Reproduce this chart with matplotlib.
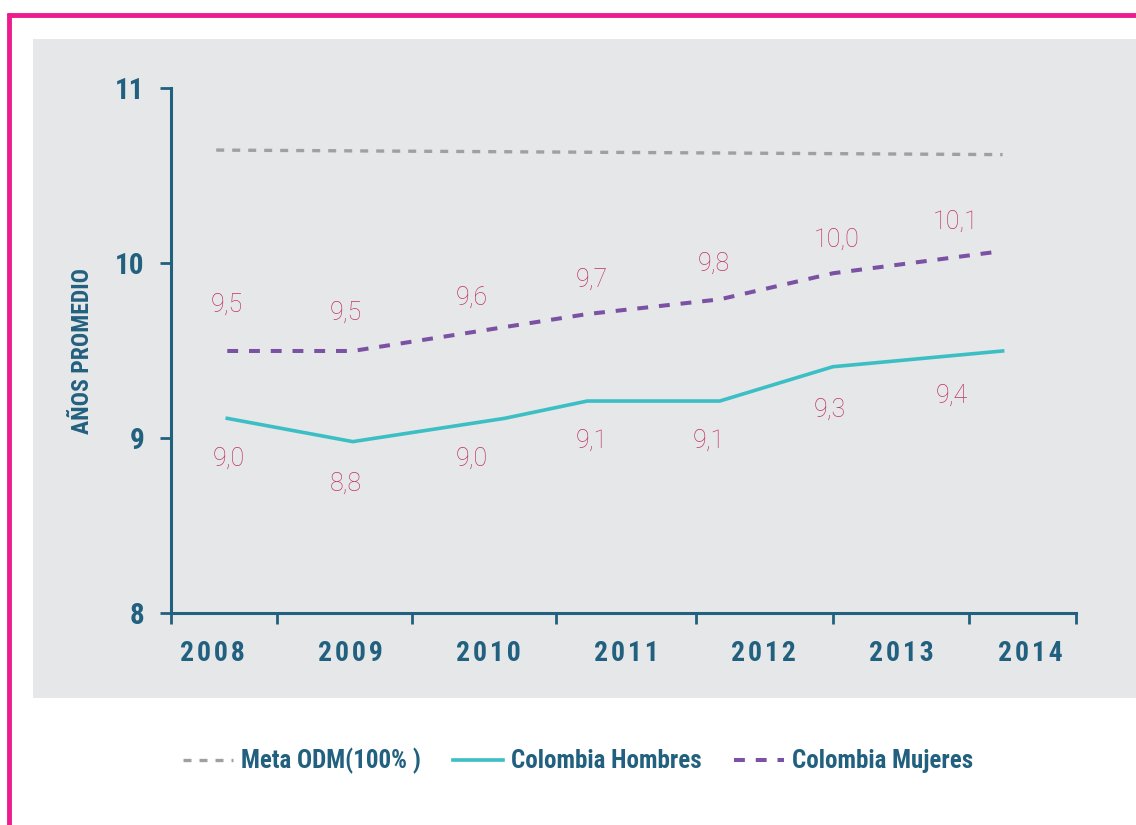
import matplotlib
matplotlib.use("Agg")
import matplotlib.pyplot as plt
import matplotlib.font_manager as fm
from matplotlib.patches import Rectangle
from matplotlib.lines import Line2D

# datos (posiciones en años fraccionarios)
meta_x = [2008.03, 2013.73]
meta_y = [10.647, 10.621]

hombres_x = [2008.11, 2009.02, 2010.12, 2010.72, 2011.68, 2012.50, 2013.73]
hombres_y = [9.114, 8.981, 9.114, 9.213, 9.213, 9.409, 9.499]

mujeres_x = [2008.11, 2009.02, 2010.72, 2011.68, 2012.50, 2013.69]
mujeres_y = [9.499, 9.499, 9.710, 9.794, 9.943, 10.066]

# etiquetas de valores
muj_lab = ["9,5", "9,5", "9,6", "9,7", "9,8", "10,0", "10,1"]
muj_lab_x = [2008.11, 2008.97, 2009.88, 2010.75, 2011.64, 2012.53, 2013.39]
muj_lab_y = [9.762, 9.716, 9.802, 9.905, 9.996, 10.133, 10.236]

hom_lab = ["9,0", "8,8", "9,0", "9,1", "9,1", "9,3", "9,4"]
hom_lab_x = [2008.12, 2008.97, 2009.88, 2010.75, 2011.60, 2012.48, 2013.36]
hom_lab_y = [8.882, 8.739, 8.882, 8.985, 8.985, 9.162, 9.242]

years = ["2008", "2009", "2010", "2011", "2012", "2013", "2014"]
year_pos = [2008, 2009, 2010, 2011, 2012, 2013, 2013.93]
sep_ticks = [2007.70, 2008.47, 2009.45, 2010.49, 2011.51, 2012.50, 2013.49, 2014.26]
y_ticks = [8, 9, 10, 11]

AZUL = "#22607f"
ROSA = "#bf3560"

names = {f.name for f in fm.fontManager.ttflist}
COND = ["Roboto Condensed", "DejaVu Sans"] if "Roboto Condensed" in names else ["DejaVu Sans"]
LIGHT = ["Roboto", "DejaVu Sans"]

fig = plt.figure(figsize=(11.36, 8.25), dpi=100)

# marco rosa y panel gris
fig.patches.append(Rectangle((33 / 1136, 1 - 698 / 825), 1, (698 - 39) / 825,
                             transform=fig.transFigure, facecolor="#e6e7e9", edgecolor="none", zorder=-10))
fig.lines.append(Line2D([7 / 1136, 1], [1 - 15 / 825] * 2, transform=fig.transFigure,
                        color="#ec1c8c", lw=3.5, solid_capstyle="butt", zorder=-5))
fig.lines.append(Line2D([9 / 1136] * 2, [0, 1 - 13 / 825], transform=fig.transFigure,
                        color="#ec1c8c", lw=3.5, solid_capstyle="butt", zorder=-5))

ax = fig.add_axes([170.7 / 1136, (825 - 613.3) / 825, (1075.7 - 170.7) / 1136, (613.3 - 88.3) / 825])
ax.patch.set_alpha(0)

l1, = ax.plot(meta_x, meta_y, color="#a0a0a0", lw=2.4, dashes=(2.4, 2.4), solid_capstyle="butt")
l2, = ax.plot(hombres_x, hombres_y, color="#3bbfc4", lw=2.6)
l3, = ax.plot(mujeres_x, mujeres_y, color="#7b52a3", lw=2.9, dashes=(2.7, 2.7))

for t, x, y in zip(muj_lab, muj_lab_x, muj_lab_y):
    ax.text(x, y, t, ha="center", va="center", color=ROSA, fontsize=18,
            family=LIGHT, fontweight="light")
for t, x, y in zip(hom_lab, hom_lab_x, hom_lab_y):
    ax.text(x, y, t, ha="center", va="center", color=ROSA, fontsize=18,
            family=LIGHT, fontweight="light")

ax.set_xlim(sep_ticks[0], sep_ticks[-1])
ax.set_ylim(8, 11)
for s in ["top", "right"]:
    ax.spines[s].set_visible(False)
for s in ["left", "bottom"]:
    ax.spines[s].set_color(AZUL)
    ax.spines[s].set_linewidth(2.2)

ax.set_yticks(y_ticks)
ax.set_yticklabels([str(v) for v in y_ticks])
ax.tick_params(axis="y", direction="out", length=8, width=2, color=AZUL, pad=11,
               labelsize=21, labelcolor=AZUL)
for lab in ax.get_yticklabels():
    lab.set_family(COND)
    lab.set_fontweight("bold")

ax.set_xticks(sep_ticks)
ax.set_xticklabels([])
ax.tick_params(axis="x", which="major", direction="out", length=8, width=2, color=AZUL)
ax.set_xticks(year_pos, minor=True)
ax.set_xticklabels(["\u200a".join(y) for y in years], minor=True)
ax.tick_params(axis="x", which="minor", length=0, pad=19, labelsize=20, labelcolor=AZUL)
for lab in ax.get_xticklabels(minor=True):
    lab.set_family(COND)
    lab.set_fontweight("bold")

ax.set_ylabel("AÑOS PROMEDIO", color=AZUL, fontsize=17, fontweight="bold", family=COND, labelpad=15)

leg = fig.legend([l1, l2, l3], ["Meta ODM(100% )", "Colombia Hombres", "Colombia Mujeres"],
                 loc="center", bbox_to_anchor=(578 / 1136, 1 - 761 / 825), ncol=3, frameon=False,
                 handlelength=2.0, handletextpad=0.32, columnspacing=1.3,
                 prop={"family": COND, "weight": "bold", "size": 18})
for t in leg.get_texts():
    t.set_color(AZUL)

fig.savefig("out.png", dpi=100)
